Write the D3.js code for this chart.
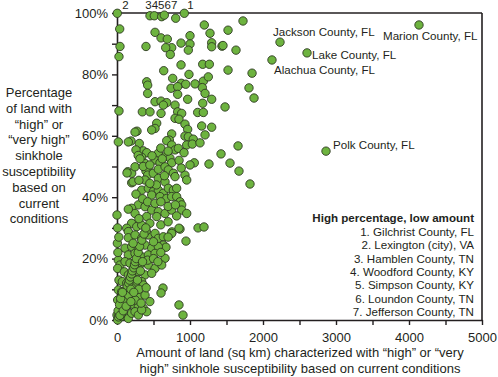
<!DOCTYPE html>
<html>
<head>
<meta charset="utf-8">
<script src="https://cdn.jsdelivr.net/npm/d3@7"></script>
<style>
  html, body { margin: 0; padding: 0; background: #fff; }
  svg text { font-family: Arial, "Liberation Sans", Helvetica, sans-serif; fill: #231f20; }
</style>
</head>
<body>
<svg id="chart" width="498" height="377"></svg>
<script>
// ---------------- DATA ----------------
// [amount of land (sq km), percentage of land with high/very high susceptibility]
const labeledCounties = ["Marion County, FL", "Jackson County, FL", "Lake County, FL", "Alachua County, FL", "Polk County, FL"];
const labeledAmount  = [4137, 2233, 2603, 2123, 2863];
const labeledPercent = [96.1, 90.5, 87.0, 84.7, 55.0];

const upperPoints = [
  [1726,97.4],[1521,94.4],[1438,89.2],[1452,89.4],[1630,87.9],[1521,81.4],[1850,80.4],[1808,75.6],[1877,72.3],
  [1480,69.4],[1658,56.7],[1425,54.1],[1548,51.1],[1671,48.5],[1822,44.3],
  [4,99.9],[452,99.1],[511,99.1],[612,98.8],[648,99.3],[804,98.3],[922,99.9],[37,94.8],[521,93.7],[603,91.9],
  [689,91.5],[749,88.7],[667,88.7],[730,86.5],[397,89.1],[41,89.1],[27,85.8],[877,90.2],[1000,92.6],[1000,89.9],
  [977,87.9],[1196,96.1],[1274,93.4],[1297,90.3],[1297,89.0],[640,81.2],[877,83.1],[1174,83.3],[1265,83.3],
  [986,80.0],[763,78.7],[407,77.6],[420,76.5],[881,77.1],[941,76.8],[1069,76.9],[1183,77.8],[1251,79.2],[740,75.5],
  [831,76.0],[1169,75.7],[1206,73.8],[831,73.5],[420,73.8],[968,71.9],[1297,71.9],[521,71.1],[603,71.3],[681,70.8],
  [635,70.0],[795,70.0],[1174,70.6],[27,68.1],[347,67.8],[452,67.8],[831,67.8],[1105,67.6],[1183,67.6]
];

const middlePoints = [
  [603,67.3],[886,67.3],[795,65.7],[849,65.4],[931,63.8],[968,62.1],[544,64.1],[521,62.4],[475,61.9],[1160,63.2],
  [1297,62.8],[274,61.5],[749,60.6],[717,58.6],[681,58.4],[931,59.9],[977,59.7],[1045,58.9],[1206,60.3],[18,58.0],
  [192,58.3],[306,57.5],[749,57.0],[795,55.4],[840,55.9],[955,57.0],[1032,57.3],[1137,57.7],[918,54.5],[361,55.1],
  [407,54.5],[566,54.3],[658,53.2],[726,52.7],[749,51.2],[338,53.0],[384,51.0],[521,52.1],[589,51.2],[1059,51.2],
  [1000,50.5],[1260,50.8],[429,49.9],[397,48.5],[420,47.2],[497,47.8],[566,49.1],[658,49.9],[703,48.9],[772,47.8],
  [795,46.7],[147,48.3],[201,47.8],[931,47.2],[955,45.6],[384,45.6],[566,46.1],[658,45.0],[201,44.7],[338,42.3],
  [429,42.9],[497,41.8],[566,42.3],[635,41.3],[703,42.9],[772,42.3],[817,42.9],[475,40.7],[589,40.2],[681,39.6],
  [749,40.2],[817,40.2],[863,38.5],[886,37.5],[292,37.5],[201,36.4],[247,34.7],[155,36.1],[384,36.9],[475,35.8],
  [566,35.3],[658,34.7],[749,35.8],[886,35.8],[955,34.7],[407,33.7],[544,33.7],[817,33.9],
  [137,47.9],[219,45.0],[247,49.9],[155,58.0],[247,61.2],[260,55.4],[290,53.6],[315,52.5],[360,50.0],[450,50.5],
  [480,53.5],[600,56.0],[620,52.5],[700,55.0],[850,52.0],[880,49.5],[650,47.0],[540,44.0],[450,44.5],[300,45.5],
  [260,41.0],[350,39.5],[420,38.5],[520,38.0],[600,38.5],[700,37.0],[800,37.5],[300,32.0],[450,31.5],[600,31.0],
  [700,32.0],[200,31.5]
];

const lowerPoints = [
  [1110,30.0],[1192,30.3],[863,29.6],[753,28.7],[945,25.7],[630,10.4],[603,8.8],[849,4.9],[904,1.6],[0,34.2],
  [133,29.9],[155,28.8],[270,30.4],[338,30.9],[155,26.8],[247,27.7],[338,26.6],[429,27.7],[521,28.2],[566,26.6],
  [635,27.1],[749,28.2],[849,29.9],[635,24.4],[671,23.7],[110,23.4],[201,23.9],[292,23.4],[384,24.4],[475,23.4],
  [566,23.9],[155,21.2],[247,21.7],[338,20.6],[429,21.2],[521,21.7],[658,20.1],[18,19.5],[41,17.9],[9,16.8],
  [110,19.0],[178,18.5],[247,17.9],[338,18.5],[429,17.9],[521,16.8],[612,17.9],[100,15.7],[155,14.7],[224,15.2],
  [292,15.7],[384,14.7],[475,15.2],[27,13.0],[73,12.5],[133,12.0],[201,12.5],[270,12.0],[338,12.5],[361,11.4],
  [18,9.8],[64,9.2],[110,8.1],[178,8.7],[247,8.1],[315,7.6],[384,8.1],[9,6.5],[55,6.0],[100,5.4],
  [155,4.9],[224,5.1],[292,4.3],[361,3.8],[407,2.7],[0,1.6],[18,0.5],[9,0],[64,1.1],[110,1.6],
  [155,0.5],[201,2.2],[247,2.7],[292,1.6],[338,3.3],
  [400,29.0],[500,25.5],[600,22.0],[700,27.0],[420,19.5],[500,20.0],[560,19.0],[200,10.5],[300,10.0],[400,10.5],
  [250,6.5],[330,5.5],[450,6.0],
  [20,1],[30,2],[45,3],[55,4],[70,5],[80,6],[95,7],[105,8],[120,9],[130,10],[140,11],[160,12],[170,13],[185,14],
  [200,15],[210,16],[230,17],[240,18],[250,19],[265,20],[290,22],[310,24],[340,26],[370,28],[395,30],[60,2],
  [90,4],[120,6],[160,8],[190,10],[15,3],[35,5],[50,7],[75,9],[40,1.5],[85,3],[125,4.5],[190,6],[230,9],
  [280,13],[320,16],[350,19],[220,25],[300,33],[12,22],[5,25],[25,27],[8,30]
];

const topMarkers = ["2", "34567", "1"];
const topMarkerAmount = [4, 470, 922];

const legendTitle = "High percentage, low amount";
const legendItems = [
  "1. Gilchrist County, FL", "2. Lexington (city), VA", "3. Hamblen County, TN",
  "4. Woodford County, KY", "5. Simpson County, KY", "6. Loundon County, TN", "7. Jefferson County, TN"
];

const yTitleLines = ["Percentage", "of land with", "\u201chigh\u201d or", "\u201cvery high\u201d", "sinkhole",
  "susceptibility", "based on", "current", "conditions"];
const xTitleLines = ["Amount of land (sq km) characterized with \u201chigh\u201d or  \u201cvery",
  "high\u201d sinkhole susceptibility based on current conditions"];

const xTicks = d3.range(0, 5001, 500);
const yTicks = d3.range(0, 101, 10);

// ---------------- CHART ----------------
const svg = d3.select("#chart");
const x = d3.scaleLinear().domain([0, 5000]).range([117, 482]);
const y = d3.scaleLinear().domain([0, 100]).range([320, 13]);
const ink = "#231f20";

// axes
const xAxis = svg.append("g").attr("transform", `translate(0,${y(0)})`)
  .call(d3.axisBottom(x).tickValues(xTicks).tickSize(5).tickSizeOuter(0).tickPadding(8)
    .tickFormat(d => d % 1000 === 0 ? d : ""));
const yAxis = svg.append("g").attr("transform", `translate(${x(0)},0)`)
  .call(d3.axisLeft(y).tickValues(yTicks).tickSize(5).tickSizeOuter(0).tickPadding(4)
    .tickFormat(d => d % 20 === 0 ? d + "%" : ""));
[xAxis, yAxis].forEach(g => {
  g.select(".domain").attr("stroke", ink).attr("stroke-width", 1.6);
  g.selectAll(".tick line").attr("stroke", ink).attr("stroke-width", 1.4);
  g.selectAll(".tick text").attr("fill", ink).style("font-size", "13px")
    .style("font-family", "Arial, 'Liberation Sans', sans-serif");
});

// frame top and right
svg.append("line").attr("x1", x(0)).attr("x2", x(5000)).attr("y1", y(100)).attr("y2", y(100))
  .attr("stroke", ink).attr("stroke-width", 1.6);
svg.append("line").attr("x1", x(5000)).attr("x2", x(5000)).attr("y1", y(100)).attr("y2", y(0))
  .attr("stroke", ink).attr("stroke-width", 1.6);

// points
const allPoints = upperPoints.concat(middlePoints, lowerPoints)
  .concat(labeledAmount.map((a, i) => [a, labeledPercent[i]]));
svg.append("g").selectAll("circle").data(allPoints).join("circle")
  .attr("cx", d => x(d[0])).attr("cy", d => y(d[1])).attr("r", 4.2)
  .attr("fill", "#6db33f").attr("stroke", "#2f3a22").attr("stroke-width", 0.9);

// labels for named counties
const labelOffsets = [[-36, 15], [-7, -6], [5, 6], [2, 14], [7, -2]];
svg.append("g").selectAll("text").data(labeledCounties).join("text")
  .attr("x", (d, i) => x(labeledAmount[i]) + labelOffsets[i][0])
  .attr("y", (d, i) => y(labeledPercent[i]) + labelOffsets[i][1])
  .style("font-size", "11.6px").text(d => d);

// numbers above the top edge
const markerOffsets = [5, -6, 3];
svg.append("g").selectAll("text").data(topMarkers).join("text")
  .attr("x", (d, i) => x(topMarkerAmount[i]) + markerOffsets[i])
  .attr("y", 9).style("font-size", "11.5px").text(d => d);

// legend box text
svg.append("text").attr("x", 474).attr("y", 222).attr("text-anchor", "end")
  .style("font-size", "11.6px").style("font-weight", "bold").text(legendTitle);
svg.append("g").selectAll("text").data(legendItems).join("text")
  .attr("x", 474).attr("y", (d, i) => 236 + i * 13.3).attr("text-anchor", "end")
  .style("font-size", "11.6px").text(d => d);

// y title
svg.append("g").selectAll("text").data(yTitleLines).join("text")
  .attr("x", 39).attr("y", (d, i) => 97 + i * 15.8).attr("text-anchor", "middle")
  .style("font-size", "13px").text(d => d);

// x title
svg.append("g").selectAll("text").data(xTitleLines).join("text")
  .attr("x", 300).attr("y", (d, i) => 357 + i * 15.5).attr("text-anchor", "middle")
  .style("font-size", "13px").text(d => d);
</script>
</body>
</html>
